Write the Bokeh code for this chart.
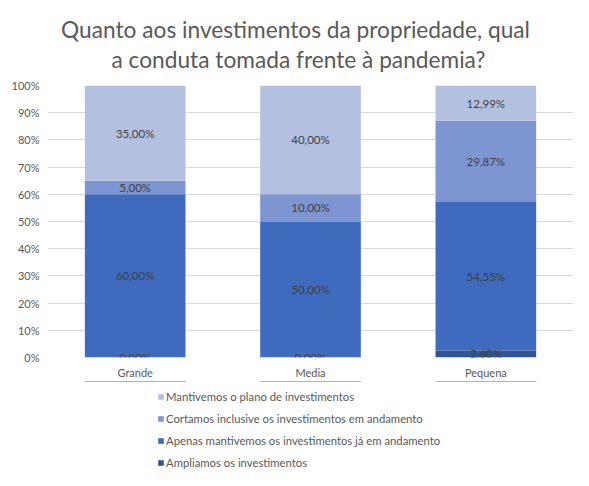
from bokeh.plotting import figure
from bokeh.models import (ColumnDataSource, FactorRange, FixedTicker, PrintfTickFormatter,
                          LabelSet, Label, Legend, LegendItem)
from bokeh.core.properties import value
from bokeh.layouts import column
from bokeh.embed import file_html
from bokeh.resources import INLINE

categories = ["Grande", "Media", "Pequena"]
series = ["Ampliamos os investimentos",
          "Apenas mantivemos os investimentos já em andamento",
          "Cortamos inclusive os investimentos em andamento",
          "Mantivemos o plano de investimentos"]
ampliamos = [0.00, 0.00, 2.60]
apenas = [60.00, 50.00, 54.55]
cortamos = [5.00, 10.00, 29.87]
mantivemos = [35.00, 40.00, 12.99]
y_ticks = [0, 10, 20, 30, 40, 50, 60, 70, 80, 90, 100]
title_lines = ["Quanto aos investimentos da propriedade, qual",
               "a conduta tomada frente à pandemia?"]

colors = ["#2f5597", "#3e6bbd", "#7d95d1", "#b4c0e0"]
FONT = "Lato"
GREY = "#595959"
W = 573
LEFT = 47  # frame left edge (frames are aligned in the column)

keys = ["s0", "s1", "s2", "s3"]
vals = [ampliamos, apenas, cortamos, mantivemos]
data = {"cat": categories}
for k, v in zip(keys, vals):
    data[k] = v
src = ColumnDataSource(data)

# ---- title strip ----
H0 = 75
p0 = figure(width=W, height=H0, output_backend="svg", toolbar_location=None,
            x_range=(0, 1), y_range=(0, 1), min_border=0, min_border_left=LEFT,
            x_axis_location=None, y_axis_location=None)
p0.grid.grid_line_color = None
p0.outline_line_color = None
for txt, xx, yy in zip(title_lines, [295, 298], [46, 16]):
    p0.add_layout(Label(x=xx - LEFT, y=yy, x_units="screen", y_units="screen", text=txt,
                        text_align="center", text_baseline="alphabetic",
                        text_font=FONT, text_font_size="22.7px", text_color=GREY))

# ---- chart ----
p = figure(x_range=FactorRange(*categories, range_padding=0), y_range=(0, 100),
           width=W, height=381 - H0, output_backend="svg", toolbar_location=None,
           min_border_left=LEFT, min_border_right=0, min_border_top=85 - H0, min_border_bottom=23)

renderers = p.vbar_stack(keys, x="cat", width=0.574, color=colors, source=src, line_color=None)

lx, ly, lt = [], [], []
for i, c in enumerate(categories):
    base = 0.0
    for v in vals:
        lx.append(c)
        ly.append(base + v[i] / 2.0)
        lt.append(f"{v[i]:.2f}".replace(".", ",") + "%")
        base += v[i]
lsrc = ColumnDataSource(dict(x=lx, y=ly, t=lt))
p.add_layout(LabelSet(x="x", y="y", text="t", source=lsrc, text_align="center",
                      text_baseline="middle", text_font=value(FONT), text_font_size=value("11.5px"),
                      text_color="#404040"))

p.yaxis.ticker = FixedTicker(ticks=y_ticks)
p.yaxis.formatter = PrintfTickFormatter(format="%d%%")
for ax in (p.xaxis, p.yaxis):
    ax.axis_line_color = None
    ax.major_tick_line_color = None
    ax.minor_tick_line_color = None
    ax.major_label_text_color = GREY
    ax.major_label_text_font = FONT
    ax.major_label_text_font_size = "11px"
p.yaxis.major_label_standoff = 2
p.xaxis.major_label_standoff = 2
p.xgrid.grid_line_color = None
p.ygrid.grid_line_color = "#d9d9d9"
p.outline_line_color = None

# ---- legend strip ----
H2 = 470 - 381
p2 = figure(width=W, height=H2, output_backend="svg", toolbar_location=None,
            x_range=FactorRange(*categories), y_range=(-2, -1), min_border=0,
            min_border_left=LEFT, x_axis_location=None, y_axis_location=None)
p2.grid.grid_line_color = None
p2.outline_line_color = None
swatches = p2.vbar_stack(keys, x="cat", width=0.574, color=colors, source=src, line_color=None)
items = [LegendItem(label=series[i], renderers=[swatches[i]]) for i in [3, 2, 1, 0]]
leg = Legend(items=items, location=(157 - LEFT, 0), orientation="vertical",
             label_text_font=FONT, label_text_font_size="11.3px", label_text_color=GREY,
             glyph_width=7, glyph_height=7, label_height=15, spacing=7, padding=0, margin=0,
             border_line_color=None, background_fill_alpha=0, label_standoff=2)
p2.add_layout(leg, "center")

open("out.html", "w").write(file_html(column(p0, p, p2, spacing=0), INLINE))
